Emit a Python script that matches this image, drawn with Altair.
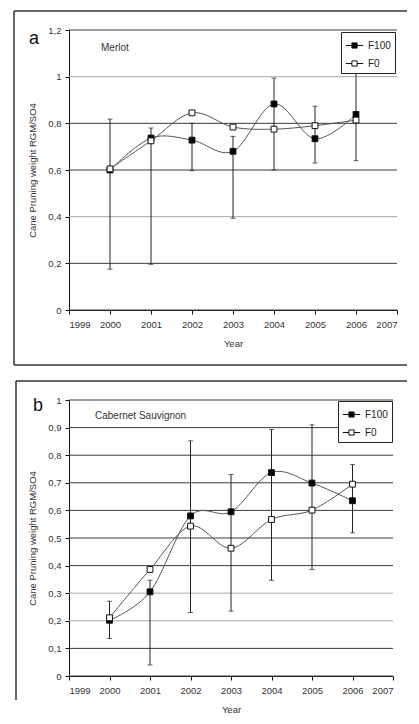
import altair as alt
import pandas as pd

years = [2000, 2001, 2002, 2003, 2004, 2005, 2006]
series_names = ["F100", "F0"]

# Panel a - Merlot
a_f100 = [0.60, 0.737, 0.728, 0.68, 0.883, 0.734, 0.838]
a_f0 = [0.605, 0.725, 0.845, 0.784, 0.775, 0.79, 0.814]
a_err_low = [0.175, 0.196, 0.597, 0.393, 0.60, 0.63, 0.64]
a_err_high = [0.818, 0.78, 0.80, 0.744, 0.994, 0.873, 1.03]
a_yticks = [0, 0.2, 0.4, 0.6, 0.8, 1.0, 1.2]
a_grid_shade = ["dark", "dark", "light", "dark", "dark", "light", "dark"]

# Panel b - Cabernet Sauvignon
b_f100 = [0.202, 0.305, 0.58, 0.595, 0.737, 0.699, 0.635]
b_f0 = [0.211, 0.386, 0.543, 0.463, 0.567, 0.601, 0.695]
b_err_low = [0.136, 0.04, 0.23, 0.235, 0.347, 0.386, 0.519]
b_err_high = [0.271, 0.347, 0.852, 0.73, 0.893, 0.91, 0.766]
b_yticks = [0, 0.1, 0.2, 0.3, 0.4, 0.5, 0.6, 0.7, 0.8, 0.9, 1.0]
b_grid_shade = ["dark", "dark", "light", "light", "dark", "dark", "dark", "dark", "dark", "dark", "dark"]

x_ticks = [1999, 2000, 2001, 2002, 2003, 2004, 2005, 2006, 2007]

FONT = "Liberation Sans"
LEGEND_PATH = "M-1,0H-0.3M0.3,0H1M-0.3,-0.3H0.3V0.3H-0.3Z"
ONE = pd.DataFrame({"k": [0]})

WA, HA = 328, 280
WB, HB = 324, 276


def panel(letter, cultivar, f100, f0, lo, hi, yticks, shade, ymax,
          letter_xy, name_xy, legend_offset):
    df = pd.DataFrame({
        "year": years * 2,
        "value": f100 + f0,
        "series": ["F100"] * len(years) + ["F0"] * len(years),
    })
    err = pd.DataFrame({"year": years, "lo": lo, "hi": hi})
    grid = pd.DataFrame({"g": yticks, "shade": shade})

    xs = alt.Scale(domain=[1999, 2007], nice=False)
    ys = alt.Scale(domain=[0, ymax], nice=False)
    x_axis = alt.Axis(values=x_ticks, format="d", title="Year", grid=False,
                      tickSize=4, labelPadding=5, titlePadding=10, labelOverlap=False)
    y_axis = alt.Axis(values=yticks, title="Cane Pruning weight RGM/SO4",
                      labelExpr="replace(toString(datum.value), '.', ',')",
                      tickSize=4, labelPadding=4, titlePadding=10,
                      grid=False, labelOverlap=False)

    def X(f):
        return alt.X(f, scale=xs, axis=x_axis)

    def Y(f):
        return alt.Y(f, scale=ys, axis=y_axis)

    gridl = alt.Chart(grid).mark_rule(strokeWidth=1).encode(
        y=Y("g:Q"),
        color=alt.Color("shade:N", scale=alt.Scale(domain=["dark", "light"],
                                                   range=["#3a3a3a", "#a8a8a8"]),
                        legend=None))

    base = alt.Chart(df)
    lines = base.mark_line(interpolate="cardinal", color="#555", strokeWidth=1).encode(
        x=X("year:Q"), y=Y("value:Q"), detail="series:N")

    ebase = alt.Chart(err)
    rules = ebase.mark_rule(color="#222", strokeWidth=1).encode(
        x=X("year:Q"), y=Y("lo:Q"), y2=alt.Y2("hi:Q"))
    tick_lo = ebase.mark_tick(orient="horizontal", color="#222", size=5, thickness=1).encode(
        x=X("year:Q"), y=Y("lo:Q"))
    tick_hi = ebase.mark_tick(orient="horizontal", color="#222", size=5, thickness=1).encode(
        x=X("year:Q"), y=Y("hi:Q"))

    points = base.mark_point(shape="square", size=34, filled=False, stroke="#111",
                             strokeWidth=1, opacity=1).encode(
        x=X("year:Q"), y=Y("value:Q"),
        fill=alt.Fill("series:N",
                      scale=alt.Scale(domain=series_names, range=["#000000", "#ffffff"]),
                      legend=alt.Legend(title=None, orient="top-right", offset=legend_offset,
                                        symbolType=LEGEND_PATH, symbolSize=300,
                                        symbolStrokeColor="#111", symbolStrokeWidth=1,
                                        strokeColor="#222", fillColor="white",
                                        padding=4, labelFontSize=10, labelFont=FONT,
                                        labelColor="#222", labelOffset=4, rowPadding=3)))

    letter_t = alt.Chart(ONE).mark_text(text=letter, fontSize=18, font=FONT, color="#111",
                                        align="center", baseline="middle").encode(
        x=alt.value(letter_xy[0]), y=alt.value(letter_xy[1]))
    name_t = alt.Chart(ONE).mark_text(text=cultivar, fontSize=10, font=FONT, color="#333",
                                      align="left", baseline="middle").encode(
        x=alt.value(name_xy[0]), y=alt.value(name_xy[1]))

    return [gridl, lines, rules, tick_lo, tick_hi, points, letter_t, name_t]


def frame(top, bottom, left, right, with_bottom=True):
    parts = [
        alt.Chart(ONE).mark_rule(color="#333", strokeWidth=1.5).encode(
            x=alt.value(left), y=alt.value(top), y2=alt.value(bottom)),
        alt.Chart(ONE).mark_rule(color="#333", strokeWidth=1.5).encode(
            x=alt.value(left), x2=alt.value(right), y=alt.value(top)),
    ]
    if with_bottom:
        parts.append(alt.Chart(ONE).mark_rule(color="#333", strokeWidth=1.5).encode(
            x=alt.value(left), x2=alt.value(right), y=alt.value(bottom)))
    return parts


pa = alt.layer(*panel("a", "Merlot", a_f100, a_f0, a_err_low, a_err_high, a_yticks,
                      a_grid_shade, 1.2, (-35, 9), (32, 18), 2),
               *frame(-19, 335, -55, WA + 10)).properties(width=WA, height=HA)
pb = alt.layer(*panel("b", "Cabernet Sauvignon", b_f100, b_f0, b_err_low, b_err_high,
                      b_yticks, b_grid_shade, 1.0, (-31, 6), (26, 16), 1),
               *frame(-19, 300, -53, WB + 14, with_bottom=False)).properties(width=WB, height=HB)

chart = alt.vconcat(pa, pb, spacing=14).resolve_scale(
    x="independent", y="independent", fill="independent", color="independent"
).resolve_axis(x="independent", y="independent").resolve_legend(
    fill="independent"
).properties(
    padding={"left": 5, "top": 2, "right": 0, "bottom": 0}
).configure_view(stroke=None).configure_axis(
    labelFont=FONT, titleFont=FONT, labelFontSize=9.5, titleFontSize=9.5,
    labelColor="#333", titleColor="#333", titleFontWeight="normal",
    domainColor="#111", tickColor="#111"
)

chart.save("out.html", embed_options={"renderer": "svg", "actions": False})
